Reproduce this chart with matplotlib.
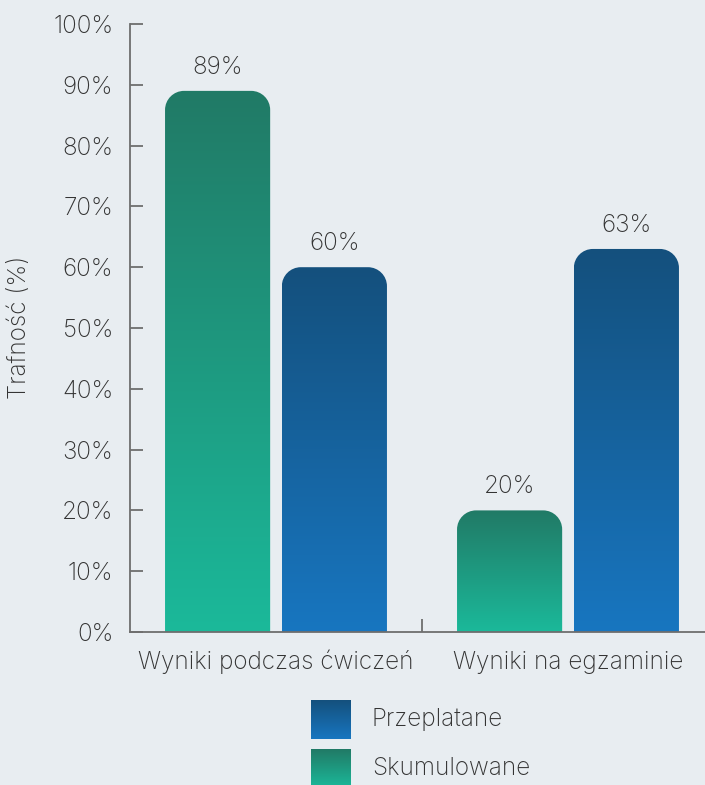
import matplotlib
matplotlib.use("Agg")
import matplotlib.pyplot as plt
import numpy as np
from matplotlib.path import Path
from matplotlib.patches import PathPatch
from matplotlib.colors import to_rgb

categories = ["Wyniki podczas ćwiczeń", "Wyniki na egzaminie"]
series_names = ["Skumulowane", "Przeplatane"]
skumulowane = [89, 20]
przeplatane = [60, 63]
yticks = [0, 10, 20, 30, 40, 50, 60, 70, 80, 90, 100]
ytick_labels = [f"{v}%" for v in yticks]

BG = "#e8edf1"
TXT = "#343434"
AX = "#6e6e6e"
green = ("#217a66", "#1bb99a")
blue = ("#14507d", "#1876c0")

plt.rcParams['font.family'] = ['Inter', 'DejaVu Sans']
plt.rcParams['font.weight'] = 'light'
FS = 17.5

W, H = 705, 785
fig = plt.figure(figsize=(W/100, H/100), dpi=100, facecolor=BG)
ax = fig.add_axes([130/W, 153/H, (714-130)/W, 608/H])
ax.set_facecolor(BG)
ax.set_xlim(-0.5, 1.5)
ax.set_ylim(0, 100)

ppx = 292.0  # px per x unit
ppy = 6.08   # px per y unit
r_px = 19
rx = r_px / ppx
ry = r_px / ppy

def grad(c_top, c_bot, n=256):
    a = np.array(to_rgb(c_top)); b = np.array(to_rgb(c_bot))
    t = np.linspace(0, 1, n)[:, None]
    return (a * (1 - t) + b * t)[:, None, :]

def rounded_top_path(x0, x1, h):
    k = 0.5523
    verts = [(x0, 0), (x0, h - ry),
             (x0, h - ry + k*ry), (x0 + rx - k*rx, h), (x0 + rx, h),
             (x1 - rx, h),
             (x1 - rx + k*rx, h), (x1, h - ry + k*ry), (x1, h - ry),
             (x1, 0), (x0, 0)]
    codes = [Path.MOVETO, Path.LINETO,
             Path.CURVE4, Path.CURVE4, Path.CURVE4,
             Path.LINETO,
             Path.CURVE4, Path.CURVE4, Path.CURVE4,
             Path.LINETO, Path.CLOSEPOLY]
    return Path(verts, codes)

width = 0.36
offsets = [-0.2, 0.2]
x = np.arange(len(categories))
for vals, off, cols in [(skumulowane, offsets[0], green), (przeplatane, offsets[1], blue)]:
    for xi, v in zip(x, vals):
        x0 = xi + off - width/2
        x1 = xi + off + width/2
        patch = PathPatch(rounded_top_path(x0, x1, v), facecolor='none', edgecolor='none')
        ax.add_patch(patch)
        im = ax.imshow(grad(*cols), extent=(x0, x1, 0, v), aspect='auto', zorder=2, interpolation='bilinear')
        im.set_clip_path(patch)
        ax.text(xi + off, v + 12/ppy, f"{v}%", ha='center', va='bottom', fontsize=FS, color=TXT)

ax.set_xlim(-0.5, 1.5)
ax.set_ylim(0, 100)

for s in ['top', 'right']:
    ax.spines[s].set_visible(False)
for s in ['left', 'bottom']:
    ax.spines[s].set_color(AX)
    ax.spines[s].set_linewidth(1.3)

ax.set_yticks(yticks)
ax.set_yticklabels(ytick_labels)
ax.tick_params(axis='y', direction='in', length=9.5, width=1.3, color=AX, pad=12, labelsize=FS, labelcolor=TXT)
ax.set_xticks([0.5])
ax.set_xticklabels([""])
ax.tick_params(axis='x', direction='in', length=9.5, width=1.3, color=AX)
for xi, c in zip(x, categories):
    ax.text(xi, -30/ppy, c, ha='center', va='center', fontsize=FS, color=TXT)

fig.text(20/W, 1 - 327/H, "Trafność (%)", rotation=90, ha='center', va='center', fontsize=FS, color=TXT)

# legend
for (name, cols, ytop) in [("Przeplatane", blue, 700), ("Skumulowane", green, 749)]:
    lax = fig.add_axes([311/W, 1 - (ytop + 39)/H, 39/W, 39/H])
    lax.imshow(grad(*cols), aspect='auto', extent=(0, 1, 0, 1))
    lax.set_axis_off()
    fig.text(372/W, 1 - (ytop + 19.5)/H, name, ha='left', va='center', fontsize=FS, color=TXT)

fig.savefig("out.png", dpi=100, facecolor=BG)
